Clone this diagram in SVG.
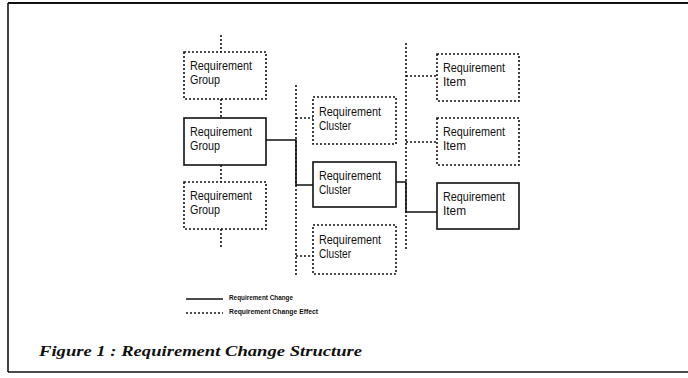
<svg xmlns="http://www.w3.org/2000/svg" width="688" height="378" viewBox="0 0 688 378">
<style>
.box{fill:#fff;stroke:#111;stroke-width:1.6}
.dot{stroke-dasharray:2 2}
.cn{fill:none;stroke:#111;stroke-width:1.6}
.lbl{font-family:"Liberation Sans",Arial,sans-serif;font-size:12px;fill:#111}
.leg{font-family:"Liberation Sans",Arial,sans-serif;font-size:7px;font-weight:bold;fill:#111}
.cap{font-family:"Liberation Serif","Times New Roman",serif;font-size:14px;font-weight:bold;font-style:italic;fill:#111}
</style>
<rect width="688" height="378" fill="#fff"/>
<g id="frame" fill="none" stroke="#111">
<line x1="8" y1="3" x2="688" y2="3" stroke-width="2"/>
<line x1="8" y1="3" x2="8" y2="372" stroke-width="1.6"/>
<line x1="8" y1="372" x2="688" y2="372" stroke-width="1.6"/>
</g>
<g id="connectors">
<path class="cn dot" d="M221 35V52M221 99V118M221 165V182M221 229V248"/>
<path class="cn dot" d="M296 85V276M296 118H313M296 256H313"/>
<path class="cn dot" d="M406 43V250M406 76H437M406 142H437"/>
<path class="cn" d="M266 140H296V185H313"/>
<path class="cn" d="M396 182H406V212H437"/>
</g>
<g id="group1"><rect class="box dot" x="184" y="52" width="82" height="47"/><text class="lbl" x="190" y="70" textLength="62" lengthAdjust="spacingAndGlyphs">Requirement</text><text class="lbl" x="190" y="84" textLength="30" lengthAdjust="spacingAndGlyphs">Group</text></g>
<g id="group2"><rect class="box" x="184" y="118" width="82" height="47"/><text class="lbl" x="190" y="136" textLength="62" lengthAdjust="spacingAndGlyphs">Requirement</text><text class="lbl" x="190" y="150" textLength="30" lengthAdjust="spacingAndGlyphs">Group</text></g>
<g id="group3"><rect class="box dot" x="184" y="182" width="82" height="47"/><text class="lbl" x="190" y="200" textLength="62" lengthAdjust="spacingAndGlyphs">Requirement</text><text class="lbl" x="190" y="214" textLength="30" lengthAdjust="spacingAndGlyphs">Group</text></g>
<g id="cluster1"><rect class="box dot" x="313" y="97" width="83" height="47"/><text class="lbl" x="319" y="116" textLength="62" lengthAdjust="spacingAndGlyphs">Requirement</text><text class="lbl" x="319" y="130" textLength="32" lengthAdjust="spacingAndGlyphs">Cluster</text></g>
<g id="cluster2"><rect class="box" x="313" y="162" width="83" height="45"/><text class="lbl" x="319" y="180" textLength="62" lengthAdjust="spacingAndGlyphs">Requirement</text><text class="lbl" x="319" y="194" textLength="32" lengthAdjust="spacingAndGlyphs">Cluster</text></g>
<g id="cluster3"><rect class="box dot" x="313" y="225" width="83" height="49"/><text class="lbl" x="319" y="244" textLength="62" lengthAdjust="spacingAndGlyphs">Requirement</text><text class="lbl" x="319" y="258" textLength="32" lengthAdjust="spacingAndGlyphs">Cluster</text></g>
<g id="item1"><rect class="box dot" x="437" y="54" width="82" height="47"/><text class="lbl" x="443" y="72" textLength="62" lengthAdjust="spacingAndGlyphs">Requirement</text><text class="lbl" x="443" y="86" textLength="23" lengthAdjust="spacingAndGlyphs">Item</text></g>
<g id="item2"><rect class="box dot" x="437" y="118" width="82" height="47"/><text class="lbl" x="443" y="136" textLength="62" lengthAdjust="spacingAndGlyphs">Requirement</text><text class="lbl" x="443" y="150" textLength="23" lengthAdjust="spacingAndGlyphs">Item</text></g>
<g id="item3"><rect class="box" x="437" y="183" width="82" height="46"/><text class="lbl" x="443" y="201" textLength="62" lengthAdjust="spacingAndGlyphs">Requirement</text><text class="lbl" x="443" y="215" textLength="23" lengthAdjust="spacingAndGlyphs">Item</text></g>
<g id="legend">
<line class="cn" x1="186" y1="299" x2="223" y2="299" stroke-width="1.2"/>
<line class="cn dot" x1="186" y1="313" x2="223" y2="313" stroke-width="1.2"/>
<text class="leg" x="229" y="300" textLength="64" lengthAdjust="spacingAndGlyphs">Requirement Change</text>
<text class="leg" x="229" y="314" textLength="89" lengthAdjust="spacingAndGlyphs">Requirement Change Effect</text>
</g>
<text class="cap" x="39" y="356" textLength="323" lengthAdjust="spacingAndGlyphs">Figure 1 : Requirement Change Structure</text>
</svg>
